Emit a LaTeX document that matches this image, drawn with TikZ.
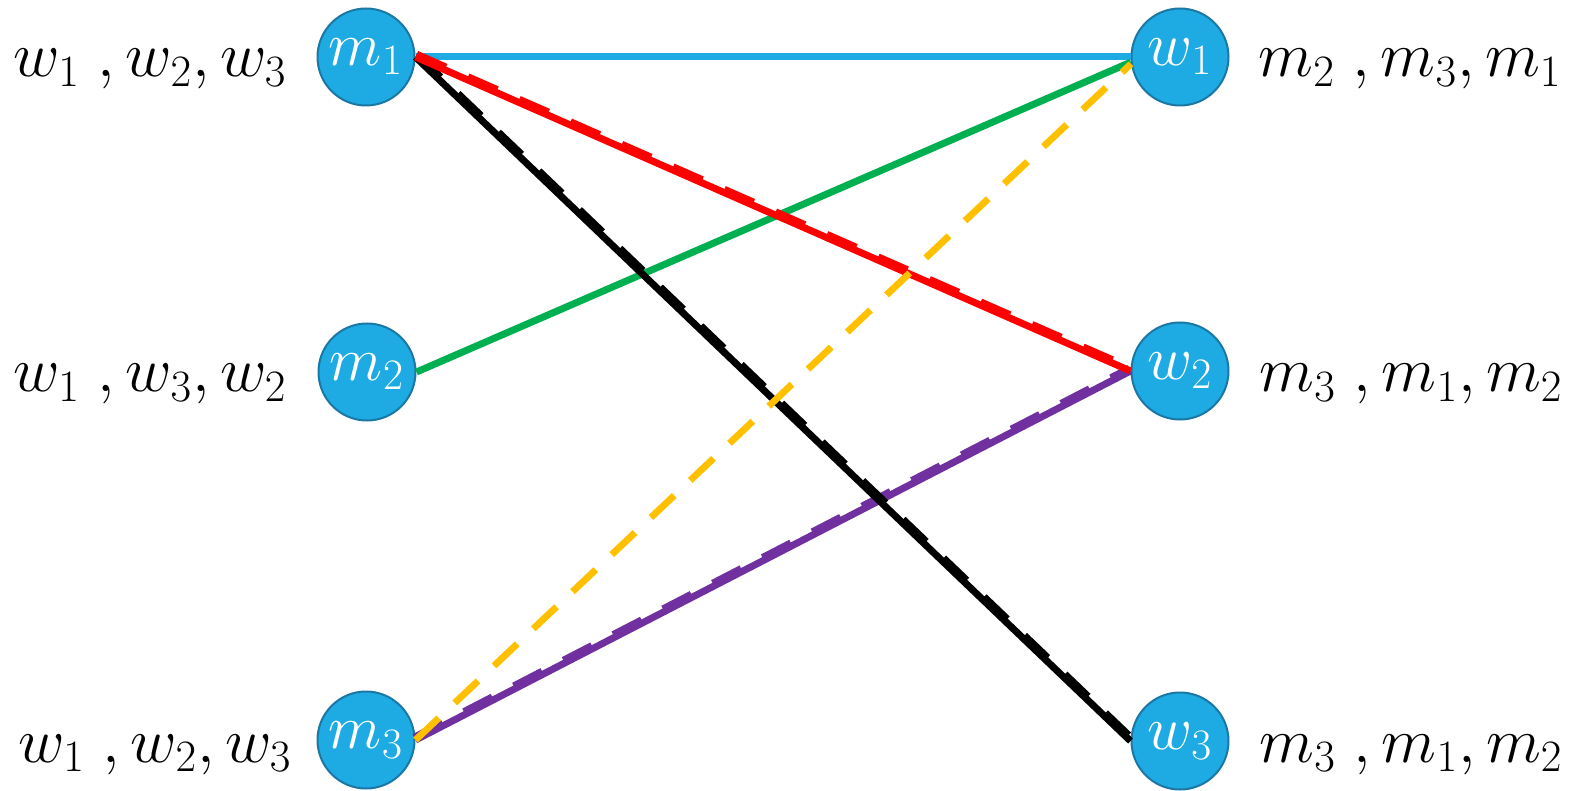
\RequirePackage{fix-cm}
\documentclass[tikz,border=0pt]{standalone}
\usetikzlibrary{calc}
\definecolor{nodefill}{RGB}{30,170,226}
\definecolor{nodeborder}{RGB}{27,120,165}
\definecolor{lcyan}{RGB}{30,170,226}
\definecolor{lred}{RGB}{255,0,0}
\definecolor{lgreen}{RGB}{0,176,80}
\definecolor{lyellow}{RGB}{255,192,0}
\definecolor{lpurple}{RGB}{112,48,160}
\tikzset{
  vert/.style={circle,fill=nodefill,draw=nodeborder,line width=1pt,minimum size=48.5pt,inner sep=0pt,text=white,font=\fontsize{31}{36}\selectfont},
  pref/.style={anchor=base,inner sep=0pt,font=\fontsize{32}{38}\selectfont},
  edge/.style={line width=3.5pt},
  dashover/.style={line width=3.5pt,dash pattern=on 16pt off 12pt},
  ydash/.style={line width=3.4pt,dash pattern=on 16pt off 11pt,color=lyellow}
}
\begin{document}
\begin{tikzpicture}[x=0.5pt,y=-0.5pt]
\useasboundingbox (0,0) rectangle (1581,791);
\node[vert] (m1) at (366,57) {$m_1$};
\node[vert] (m2) at (367,372) {$m_2$};
\node[vert] (m3) at (366,740) {$m_3$};
\node[vert] (w1) at (1180,57) {$w_1$};
\node[vert] (w2) at (1180,371) {$w_2$};
\node[vert] (w3) at (1180,741) {$w_3$};
\node[pref] (pm1) at (150,77) {$w_1\;,w_2,w_3$};
\node[pref] (pm2) at (150,392) {$w_1\;,w_3,w_2$};
\node[pref] (pm3) at (155,762) {$w_1\;,w_2,w_3$};
\node[pref] (pw1) at (1410,77) {$m_2\;,m_3,m_1$};
\node[pref] (pw2) at (1411,392) {$m_3\;,m_1,m_2$};
\node[pref] (pw3) at (1411,762) {$m_3\;,m_1,m_2$};
% edges
\draw[edge,lcyan] (m1.east) -- (w1.west);
\draw[edge,lgreen] (m2.east) -- (w1.186);
\draw[edge,lpurple] (m3.east) -- (w2.west);
\draw[dashover,lpurple] ($(m3.east)!1.5pt!90:(w2.west)$) -- ($(w2.west)!1.5pt!-90:(m3.east)$);
\draw[edge,black] (m1.east) -- (w3.west);
\draw[dashover,black] ($(m1.east)!1.5pt!90:(w3.west)$) -- ($(w3.west)!1.5pt!-90:(m1.east)$);
\draw[edge,lred] (m1.east) -- (w2.west);
\draw[dashover,lred] ($(m1.east)!1.5pt!90:(w2.west)$) -- ($(w2.west)!1.5pt!-90:(m1.east)$);
\draw[ydash] (m3.east) -- (w1.188);
\end{tikzpicture}
\end{document}
